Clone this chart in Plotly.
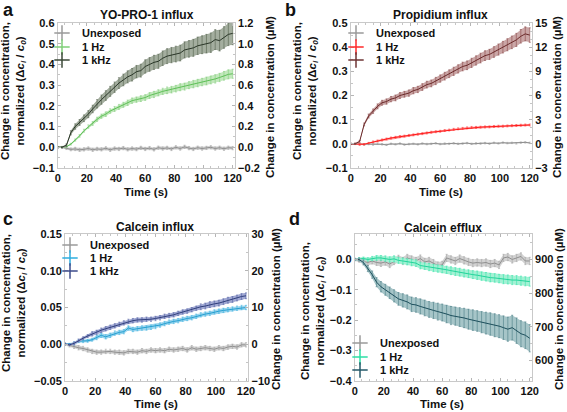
import plotly.graph_objects as go
import numpy as np

# ---------------- data (time step 3 s) ----------------
t = list(range(0, 121, 3))

# Panel a: YO-PRO-1 influx
a_un = [0.0, 0.0, -0.005, -0.01, -0.008, -0.012, -0.01, -0.006, -0.012, -0.008, -0.01, -0.005, -0.012, -0.006,
        -0.008, -0.004, -0.01, -0.006, -0.009, -0.003, -0.008, -0.004, -0.01, -0.002, -0.006, -0.003, -0.008,
        0.0, -0.006, 0.002, -0.004, -0.008, -0.002, -0.006, -0.003, 0.0, -0.006, -0.002, -0.007, -0.002, -0.004]
a_un_e = [0.003, 0.004, 0.006, 0.007, 0.008, 0.008, 0.008, 0.008, 0.008, 0.008, 0.008, 0.008, 0.008, 0.008,
          0.008, 0.008, 0.008, 0.008, 0.008, 0.008, 0.008, 0.008, 0.008, 0.008, 0.008, 0.008, 0.008,
          0.008, 0.008, 0.008, 0.008, 0.008, 0.008, 0.008, 0.008, 0.008, 0.008, 0.008, 0.008, 0.008, 0.008]
a_h = [0.0, 0.0, 0.003, 0.015, 0.035, 0.055, 0.08, 0.1, 0.115, 0.135, 0.15, 0.16, 0.175, 0.185, 0.195, 0.205,
       0.215, 0.225, 0.23, 0.235, 0.24, 0.25, 0.255, 0.263, 0.27, 0.275, 0.278, 0.283, 0.29, 0.293, 0.3, 0.305,
       0.31, 0.315, 0.32, 0.325, 0.33, 0.337, 0.345, 0.352, 0.355]
a_h_e = [0.002, 0.002, 0.003, 0.004, 0.005, 0.006, 0.007, 0.008, 0.009, 0.01, 0.01, 0.011, 0.011, 0.012, 0.012,
         0.012, 0.013, 0.013, 0.013, 0.014, 0.014, 0.014, 0.015, 0.015, 0.015, 0.016, 0.016, 0.016, 0.017, 0.017,
         0.017, 0.018, 0.018, 0.018, 0.019, 0.019, 0.02, 0.02, 0.021, 0.022, 0.022]
a_k = [0.0, 0.0, 0.01, 0.07, 0.1, 0.12, 0.14, 0.16, 0.185, 0.21, 0.23, 0.25, 0.27, 0.29, 0.31, 0.325, 0.34, 0.35,
       0.365, 0.37, 0.39, 0.4, 0.41, 0.415, 0.43, 0.44, 0.445, 0.45, 0.455, 0.47, 0.475, 0.48, 0.49, 0.495, 0.5,
       0.505, 0.52, 0.515, 0.53, 0.545, 0.55]
a_k_e = [0.004, 0.004, 0.006, 0.01, 0.013, 0.014, 0.016, 0.017, 0.018, 0.02, 0.022, 0.023, 0.024, 0.025, 0.026,
         0.028, 0.029, 0.03, 0.03, 0.031, 0.032, 0.033, 0.034, 0.034, 0.035, 0.036, 0.037, 0.038, 0.038, 0.039,
         0.04, 0.041, 0.042, 0.043, 0.045, 0.047, 0.048, 0.05, 0.052, 0.054, 0.055]

# Panel b: Propidium influx
b_un = [0.0, 0.0, -0.002, -0.003, -0.001, -0.003, 0.0, -0.002, -0.004, 0.0, -0.002, 0.001, -0.003, -0.001,
        0.0, -0.002, 0.001, -0.001, 0.0, 0.002, -0.001, 0.001, 0.0, 0.002, 0.0, 0.001, 0.003, 0.0, 0.002,
        0.001, 0.003, 0.001, 0.004, 0.002, 0.005, 0.003, 0.004, 0.002, 0.005, 0.006, 0.004]
b_un_e = [0.003] * 41
b_h = [0.0, 0.0, -0.003, -0.002, 0.003, 0.008, 0.012, 0.016, 0.02, 0.024, 0.027, 0.03, 0.032, 0.035, 0.037,
       0.04, 0.042, 0.045, 0.048, 0.05, 0.052, 0.055, 0.057, 0.06, 0.062, 0.064, 0.066, 0.068, 0.068, 0.069,
       0.07, 0.07, 0.072, 0.073, 0.073, 0.074, 0.075, 0.076, 0.077, 0.078, 0.078]
b_h_e = [0.002, 0.002, 0.003, 0.003, 0.003, 0.004, 0.004, 0.004, 0.004, 0.004, 0.004, 0.004, 0.004, 0.004, 0.004,
         0.004, 0.004, 0.004, 0.004, 0.004, 0.004, 0.004, 0.004, 0.004, 0.004, 0.004, 0.004, 0.004, 0.004, 0.004,
         0.004, 0.004, 0.004, 0.004, 0.004, 0.004, 0.004, 0.004, 0.004, 0.004, 0.004]
b_k = [0.0, 0.0, 0.01, 0.08, 0.115, 0.135, 0.155, 0.17, 0.175, 0.185, 0.19, 0.2, 0.205, 0.21, 0.22, 0.225, 0.235,
       0.245, 0.25, 0.26, 0.27, 0.28, 0.29, 0.3, 0.31, 0.32, 0.325, 0.335, 0.345, 0.355, 0.365, 0.37, 0.38, 0.39,
       0.4, 0.41, 0.42, 0.43, 0.445, 0.455, 0.45]
b_k_e = [0.003, 0.003, 0.004, 0.006, 0.008, 0.009, 0.01, 0.01, 0.011, 0.011, 0.012, 0.012, 0.012, 0.013, 0.013,
         0.013, 0.014, 0.014, 0.014, 0.015, 0.015, 0.016, 0.016, 0.017, 0.017, 0.018, 0.018, 0.019, 0.019, 0.02,
         0.02, 0.021, 0.022, 0.023, 0.024, 0.025, 0.026, 0.027, 0.028, 0.029, 0.03]

# Panel c: Calcein influx
c_un = [0.0, -0.002, -0.003, -0.005, -0.006, -0.008, -0.01, -0.011, -0.011, -0.01, -0.01, -0.011, -0.011, -0.012,
        -0.01, -0.01, -0.011, -0.009, -0.01, -0.008, -0.009, -0.008, -0.009, -0.007, -0.008, -0.007, -0.006,
        -0.008, -0.005, -0.007, -0.006, -0.005, -0.006, -0.007, -0.005, -0.006, -0.004, -0.003, -0.004, -0.001,
        -0.001]
c_un_e = [0.002, 0.002, 0.003, 0.003, 0.003, 0.003, 0.003, 0.003, 0.003, 0.003, 0.003, 0.003, 0.003, 0.003,
          0.003, 0.003, 0.003, 0.003, 0.003, 0.003, 0.003, 0.003, 0.003, 0.003, 0.003, 0.003, 0.003, 0.003,
          0.003, 0.003, 0.003, 0.003, 0.003, 0.003, 0.003, 0.003, 0.003, 0.003, 0.003, 0.003, 0.003]
c_h = [0.0, 0.0, 0.001, 0.004, 0.004, 0.0045, 0.006, 0.009, 0.012, 0.01, 0.012, 0.015, 0.016, 0.017, 0.022, 0.02,
       0.021, 0.022, 0.022, 0.023, 0.024, 0.026, 0.028, 0.03, 0.031, 0.032, 0.034, 0.035, 0.036, 0.038, 0.04,
       0.041, 0.042, 0.044, 0.045, 0.046, 0.047, 0.048, 0.049, 0.05, 0.05]
c_h_e = [0.001, 0.001, 0.002, 0.002, 0.002, 0.002, 0.002, 0.003, 0.003, 0.003, 0.003, 0.003, 0.003, 0.003,
         0.003, 0.003, 0.003, 0.003, 0.003, 0.003, 0.003, 0.003, 0.003, 0.003, 0.003, 0.003, 0.003, 0.003,
         0.003, 0.003, 0.003, 0.003, 0.003, 0.003, 0.003, 0.003, 0.003, 0.003, 0.003, 0.003, 0.003]
c_k = [0.0, -0.001, 0.001, 0.005, 0.008, 0.011, 0.014, 0.016, 0.019, 0.021, 0.023, 0.025, 0.027, 0.029, 0.031,
       0.032, 0.033, 0.033, 0.034, 0.034, 0.035, 0.036, 0.038, 0.039, 0.04, 0.042, 0.044, 0.045, 0.047, 0.049,
       0.051, 0.052, 0.054, 0.055, 0.056, 0.058, 0.06, 0.061, 0.063, 0.065, 0.066]
c_k_e = [0.001, 0.001, 0.002, 0.002, 0.002, 0.002, 0.003, 0.003, 0.003, 0.003, 0.003, 0.003, 0.003, 0.003,
         0.003, 0.003, 0.003, 0.003, 0.003, 0.003, 0.003, 0.003, 0.003, 0.003, 0.003, 0.003, 0.003, 0.003,
         0.003, 0.003, 0.004, 0.004, 0.004, 0.004, 0.004, 0.004, 0.004, 0.004, 0.004, 0.004, 0.004]

# Panel d: Calcein efflux
d_un = [0.0, -0.003, -0.005, -0.01, -0.005, -0.01, -0.012, -0.008, -0.015, -0.005, 0.002, -0.005, 0.005, 0.0,
        -0.005, 0.003, -0.008, -0.005, -0.012, -0.02, -0.018, 0.005, 0.0, -0.005, 0.003, -0.003, -0.008, -0.012,
        -0.01, -0.012, -0.01, -0.015, -0.012, -0.018, 0.005, 0.008, 0.0, 0.005, 0.01, -0.005, -0.005]
d_un_e = [0.004, 0.006, 0.008, 0.01, 0.01, 0.01, 0.011, 0.011, 0.012, 0.012, 0.012, 0.012, 0.012, 0.012, 0.012,
          0.012, 0.012, 0.012, 0.012, 0.012, 0.012, 0.012, 0.012, 0.012, 0.012, 0.012, 0.012, 0.012, 0.012,
          0.012, 0.012, 0.012, 0.012, 0.012, 0.012, 0.012, 0.012, 0.012, 0.012, 0.012, 0.012]
d_h = [0.0, 0.002, 0.003, 0.0, 0.003, 0.005, 0.005, 0.003, 0.0, 0.002, -0.003, -0.005, -0.008, -0.01, -0.012,
       -0.02, -0.022, -0.025, -0.028, -0.03, -0.032, -0.034, -0.037, -0.04, -0.042, -0.045, -0.047, -0.05,
       -0.052, -0.055, -0.057, -0.06, -0.061, -0.063, -0.065, -0.066, -0.068, -0.068, -0.07, -0.072, -0.073]
d_h_e = [0.003, 0.004, 0.005, 0.006, 0.007, 0.008, 0.008, 0.009, 0.009, 0.01, 0.01, 0.01, 0.01, 0.011, 0.011,
         0.011, 0.011, 0.012, 0.012, 0.012, 0.012, 0.012, 0.013, 0.013, 0.013, 0.013, 0.013, 0.013, 0.014, 0.014,
         0.014, 0.014, 0.014, 0.014, 0.015, 0.015, 0.015, 0.015, 0.015, 0.015, 0.015]
d_k = [0.0, 0.0, -0.01, -0.03, -0.05, -0.075, -0.09, -0.1, -0.11, -0.12, -0.13, -0.135, -0.14, -0.148, -0.15,
       -0.155, -0.16, -0.165, -0.168, -0.172, -0.175, -0.18, -0.185, -0.187, -0.19, -0.193, -0.197, -0.2, -0.203,
       -0.207, -0.21, -0.213, -0.217, -0.22, -0.225, -0.23, -0.225, -0.235, -0.245, -0.25, -0.26]
d_k_e = [0.004, 0.005, 0.008, 0.01, 0.012, 0.015, 0.017, 0.018, 0.019, 0.02, 0.021, 0.022, 0.023, 0.024, 0.024,
         0.025, 0.026, 0.026, 0.027, 0.028, 0.028, 0.029, 0.03, 0.03, 0.031, 0.032, 0.033, 0.034, 0.034, 0.035,
         0.036, 0.037, 0.038, 0.038, 0.039, 0.04, 0.041, 0.042, 0.043, 0.044, 0.045]

series_names = ["Unexposed", "1 Hz", "1 kHz"]
panel_titles = ["YO-PRO-1 influx", "Propidium influx", "Calcein influx", "Calcein efflux"]
panel_letters = ["a", "b", "c", "d"]

# ---------------- styling ----------------
FONT = "Liberation Sans"
GRAY = dict(line="#8f8f8f", band="#d2d2d2", err="#a6a6a6", leg="#9a9a9a")
styles = {
    "a": [GRAY, dict(line="#5fbf58", band="#c2e8bc", err="#86cf80", leg="#7fcf78"),
          dict(line="#2a3628", band="#a4ae9f", err="#55634f", leg="#3c4a38")],
    "b": [GRAY, dict(line="#ff1a1a", band="#ffa3a3", err="#ff3c3c", leg="#ff2a2a"),
          dict(line="#6a2a2a", band="#caa6a6", err="#8c4c4c", leg="#6e3434")],
    "c": [GRAY, dict(line="#259fd0", band="#9bd5ee", err="#44b6e0", leg="#2eaee0"),
          dict(line="#303f7c", band="#a0a8d3", err="#5966a6", leg="#3e4c8c")],
    "d": [GRAY, dict(line="#22d49a", band="#a3f1d4", err="#3be6ad", leg="#2ee0a6"),
          dict(line="#1d4f5c", band="#a6c5c8", err="#4c7d87", leg="#24596a")],
}
data = {
    "a": [(a_un, a_un_e), (a_h, a_h_e), (a_k, a_k_e)],
    "b": [(b_un, b_un_e), (b_h, b_h_e), (b_k, b_k_e)],
    "c": [(c_un, c_un_e), (c_h, c_h_e), (c_k, c_k_e)],
    "d": [(d_un, d_un_e), (d_h, d_h_e), (d_k, d_k_e)],
}

W, H = 567, 412
def px(xp): return xp / W
def py(yp): return 1 - yp / H

# domains in pixels: (x0, x1, ytop, ybottom)
dom = {
    "a": (57.7, 234.9, 23, 168),
    "b": (350.7, 532.0, 23, 168),
    "c": (65.0, 248.3, 234.3, 380.7),
    "d": (354.7, 531.9, 234.3, 380.7),
}
left_ax = {
    "a": dict(range=[-0.1, 0.6], dtick=0.1, tickformat=".1f"),
    "b": dict(range=[-0.1, 0.5], dtick=0.1, tickformat=".1f"),
    "c": dict(range=[-0.05, 0.15], dtick=0.05, tickformat=".2f"),
    "d": dict(range=[-0.4, 0.083], dtick=0.1, tickformat=".1f"),
}
right_scale = {
    "a": (lambda v: 2 * v, 0.2, ".1f"),
    "b": (lambda v: 30 * v, 3, "d"),
    "c": (lambda v: 200 * v, 10, "d"),
    "d": (lambda v: 900 * (1 + v), 100, "d"),
}

fig = go.Figure()
tickfont = dict(family=FONT, size=11, color="#111", weight="bold")
axcommon = dict(showline=True, linecolor="#c9c9c9", linewidth=1, ticks="inside", ticklen=3,
                tickcolor="#b5b5b5", showgrid=False, zeroline=False, tickfont=tickfont)

keys = ["a", "b", "c", "d"]
legend_rows = {"a": (42, [33, 47, 60]), "b": (336, [33, 47, 60]), "c": (50, [245, 258, 271]),
               "d": (340, [343, 357, 370])}
lg_i = 0
for i, k in enumerate(keys):
    n = i + 1
    xa = "x" if n == 1 else f"x{n}"
    ya = "y" if n == 1 else f"y{n}"
    x0, x1, yt, yb = dom[k]
    xkey = "xaxis" if n == 1 else f"xaxis{n}"
    ykey = "yaxis" if n == 1 else f"yaxis{n}"
    fig.update_layout({
        xkey: dict(domain=[px(x0), px(x1)], anchor=ya, range=[0, 121.5], dtick=20, tick0=0,
                   mirror="ticks", minor=dict(ticks="inside", ticklen=2, dtick=5, tickcolor="#c5c5c5"),
                   **axcommon),
        ykey: dict(domain=[py(yb), py(yt)], anchor=xa, tick0=0,
                   minor=dict(ticks="inside", ticklen=2, nticks=3, tickcolor="#c5c5c5"),
                   **left_ax[k], **axcommon),
    })
    # right-hand axis
    f, dt, fmt = right_scale[k]
    r0, r1 = left_ax[k]["range"]
    rkey = f"yaxis{n + 4}"
    fig.update_layout({
        rkey: dict(overlaying=ya, anchor=xa, side="right", range=[f(r0), f(r1)], dtick=dt, tick0=0,
                   tickformat=fmt, minor=dict(ticks="inside", ticklen=2, nticks=3, tickcolor="#c5c5c5"),
                   **axcommon)
    })
    fig.add_trace(go.Scatter(x=[None], y=[None], xaxis=xa, yaxis=f"y{n + 4}", showlegend=False,
                             hoverinfo="skip"))

    for j, (yv, ev) in enumerate(data[k]):
        st = styles[k][j]
        yv_a = np.array(yv)
        ev_a = np.array(ev)
        up = yv_a + ev_a
        lo = yv_a - ev_a
        fig.add_trace(go.Scatter(x=list(t) + list(t)[::-1], y=list(up) + list(lo[::-1]), fill="toself",
                                 fillcolor=st["band"], line=dict(width=0), mode="lines",
                                 xaxis=xa, yaxis=ya, showlegend=False, hoverinfo="skip"))
        fig.add_trace(go.Scatter(x=t, y=yv, mode="lines", line=dict(color=st["line"], width=1),
                                 error_y=dict(type="data", array=ev, color=st["err"], thickness=0.6, width=1),
                                 xaxis=xa, yaxis=ya, showlegend=False))
        # legend entry
        lg_i += 1
        lname = "legend" if lg_i == 1 else f"legend{lg_i}"
        fig.add_trace(go.Scatter(x=[None], y=[None], mode="markers", name=series_names[j],
                                 marker=dict(symbol="cross-thin-open", size=11, color=st["leg"],
                                             line=dict(width=1.5, color=st["leg"])),
                                 xaxis=xa, yaxis=ya, legend=lname, showlegend=True))
        lx, rows = legend_rows[k]
        fig.update_layout({lname: dict(x=px(lx), y=py(rows[j]), xanchor="left", yanchor="middle",
                                       bgcolor="rgba(0,0,0,0)", borderwidth=0,
                                       font=dict(family=FONT, size=11, color="#111", weight="bold"))})

# ---------------- annotations ----------------
ann = []
def A(text, x, y, size=11, angle=0, xanchor="center", yanchor="middle"):
    ann.append(dict(text=text, x=px(x), y=py(y), xref="paper", yref="paper", showarrow=False,
                    textangle=angle, xanchor=xanchor, yanchor=yanchor,
                    font=dict(family=FONT, size=size, color="#111", weight="bold")))

title_pos = {"a": (147, 15), "b": (440, 15), "c": (155, 227), "d": (443, 228)}
letter_pos = {"a": (8, 10), "b": (290, 10), "c": (8, 219), "d": (294, 219)}
left_title = {"a": (13, 91), "b": (305, 91), "c": (14, 303), "d": (313, 311)}
right_title = {"a": (270, 97), "b": (557, 97), "c": (276, 309), "d": (559, 309)}
time_pos = {"a": (146, 192), "b": (441, 192), "c": (156, 404), "d": (442, 404)}
ylab = "Change in concentration,<br>normalized (Δ<i>c<sub>i</sub></i> / <i>c<sub>0</sub></i>)"
for i, k in enumerate(keys):
    A(panel_titles[i], *title_pos[k], size=12)
    A(panel_letters[i], *letter_pos[k], size=18)
    A(ylab, *left_title[k], size=11.5, angle=-90)
    A("Change in concentration (µM)", *right_title[k], size=11.5, angle=-90)
    A("Time (s)", *time_pos[k], size=11.5)

fig.update_layout(width=W, height=H, margin=dict(l=0, r=0, t=0, b=0, autoexpand=False), autosize=False,
                  paper_bgcolor="white", plot_bgcolor="white", annotations=ann,
                  font=dict(family=FONT, size=11, color="#111"))

# remove the default page margin so the figure sits at the window's top-left corner
fig.write_html("out.html", config={"displayModeBar": False},
               post_script="document.body.style.margin='0px';")
